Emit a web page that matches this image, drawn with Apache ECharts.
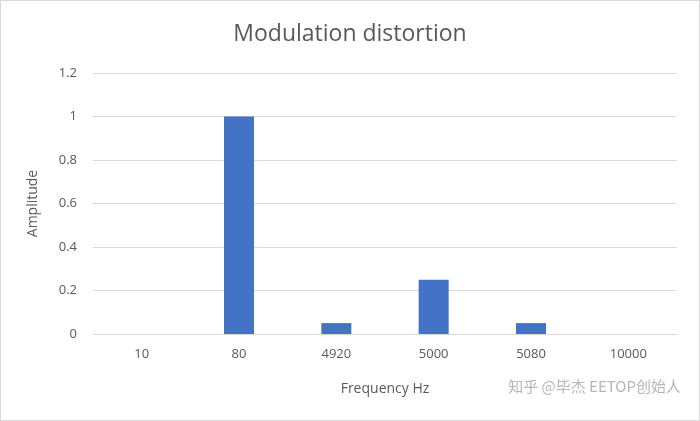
<!DOCTYPE html>
<html><head><meta charset="utf-8">
<script src="https://cdn.jsdelivr.net/npm/echarts@6/dist/echarts.min.js"></script>
<style>html,body{margin:0;padding:0;background:#fff}#c{width:700px;height:421px;box-sizing:border-box;border:1px solid #d9d9d9}</style>
</head><body><div id="c"></div>
<script>
const categories = ['10','80','4920','5000','5080','10000'];
const amplitude = [0, 1, 0.05, 0.25, 0.05, 0];
const chart = echarts.init(document.getElementById('c'));
chart.setOption({
  animation:false,
  title:{text:'Modulation distortion',left:'center',top:17,textStyle:{fontFamily:'Open Sans',fontWeight:'normal',fontSize:23,color:'#595959'}},
  grid:{left:92,right:22,top:72,bottom:86},
  xAxis:{type:'category',data:categories,name:'Frequency Hz',nameLocation:'middle',nameGap:48,
    nameTextStyle:{fontFamily:'Open Sans',fontSize:14,color:'#595959'},
    axisLine:{lineStyle:{color:'#d9d9d9'}},axisTick:{show:false},
    axisLabel:{margin:14,fontFamily:'Open Sans',fontSize:13,color:'#595959'}},
  yAxis:{type:'value',min:0,max:1.2,interval:0.2,name:'Amplitude',nameLocation:'middle',nameGap:53,
    nameTextStyle:{fontFamily:'Open Sans',fontSize:14,color:'#595959'},
    axisLabel:{margin:16,fontFamily:'Open Sans',fontSize:13,color:'#595959',formatter:v=>String(Math.round(v*10)/10)},
    splitLine:{lineStyle:{color:'#d9d9d9'}},axisLine:{show:false},axisTick:{show:false}},
  series:[{type:'bar',data:amplitude,barWidth:30,itemStyle:{color:'#4472c4'}}],
  graphic:[{type:'text',right:18,top:378,style:{text:'知乎 @毕杰 EETOP创始人',font:'15px "Noto Sans CJK SC"',fill:'rgba(120,120,120,0.55)'}}]
});
</script></body></html>
